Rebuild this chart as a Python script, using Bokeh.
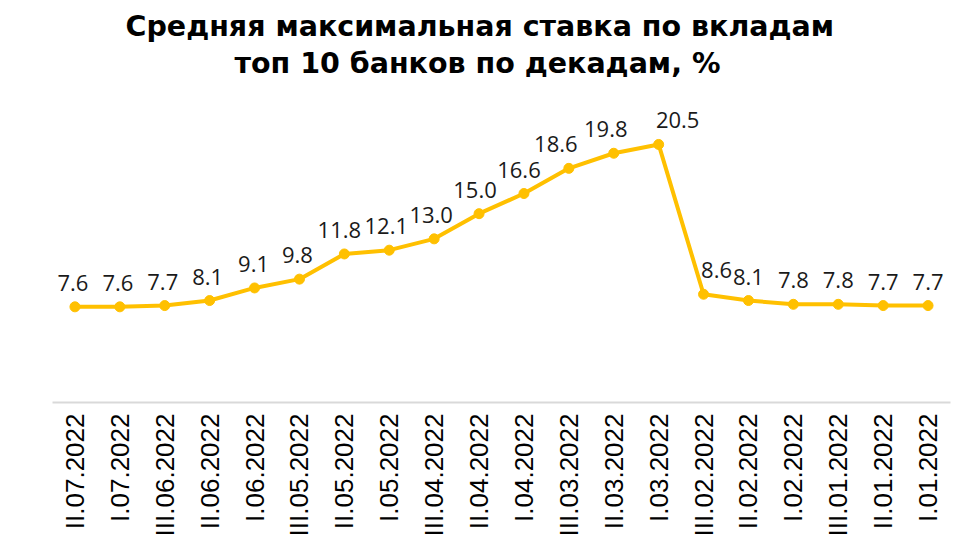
import math
from bokeh.plotting import figure
from bokeh.models import Range1d, FactorRange, Title, ColumnDataSource, LabelSet
from bokeh.core.properties import value
from bokeh.embed import file_html
from bokeh.resources import INLINE

periods = ["II.07.2022", "I.07.2022", "III.06.2022", "II.06.2022", "I.06.2022",
           "III.05.2022", "II.05.2022", "I.05.2022", "III.04.2022", "II.04.2022",
           "I.04.2022", "III.03.2022", "II.03.2022", "I.03.2022", "III.02.2022",
           "II.02.2022", "I.02.2022", "III.01.2022", "II.01.2022", "I.01.2022"]
rates = [7.6, 7.6, 7.7, 8.1, 9.1, 9.8, 11.8, 12.1, 13.0, 15.0,
         16.6, 18.6, 19.8, 20.5, 8.6, 8.1, 7.8, 7.8, 7.7, 7.7]
labels = [f"{v:.1f}" for v in rates]
# label horizontal nudges (px), as in the original's manual placement
label_dx = [-2, -2, -2, -2, -1, -2, -5, -3, -3, -4, -5, -13, -8, 19, 13, 0, 0, 0, 0, 0]

src = ColumnDataSource(dict(x=periods, y=rates, t=labels, dx=label_dx))

p = figure(width=951, height=539, x_range=FactorRange(*periods), y_range=Range1d(0, 25.5),
           output_backend="svg", toolbar_location=None,
           min_border_left=52, min_border_right=1, min_border_top=8, min_border_bottom=0)

p.add_layout(Title(text="топ 10 банков по декадам, %", align="left", standoff=4, offset=182,
                   text_font="DejaVu Sans", text_font_size="28.5px", text_font_style="bold",
                   text_color="black"), "above")
p.add_layout(Title(text="Средняя максимальная ставка по вкладам", align="left", standoff=0,
                   offset=73, text_font="DejaVu Sans", text_font_size="28.5px",
                   text_font_style="bold", text_color="black"), "above")
# thin spacer above the title
p.add_layout(Title(text=" ", standoff=0, text_font_size="4px"), "above")

p.line("x", "y", source=src, line_color="#FFC000", line_width=4)
p.scatter("x", "y", source=src, size=10, fill_color="#FFC000", line_color="#FFC000")

p.add_layout(LabelSet(x="x", y="y", text="t", source=src, x_offset="dx", y_offset=16,
                      text_align="center", text_baseline="alphabetic",
                      text_font=value("Open Sans"), text_font_size=value("22px"),
                      text_color=value("#1a1a1a")))

p.yaxis.visible = False
p.xgrid.visible = False
p.ygrid.visible = False
p.outline_line_color = None
p.xaxis.axis_line_color = "#D9D9D9"
p.xaxis.axis_line_width = 2
p.xaxis.major_tick_line_color = None
p.xaxis.minor_tick_line_color = None
p.xaxis.major_label_orientation = math.pi / 2
p.xaxis.major_label_text_font = "Liberation Sans"
p.xaxis.major_label_text_font_size = "26px"
p.xaxis.major_label_text_color = "black"
p.xaxis.major_label_standoff = 5
p.x_range.range_padding = 0

open("out.html", "w").write(file_html(p, INLINE))
